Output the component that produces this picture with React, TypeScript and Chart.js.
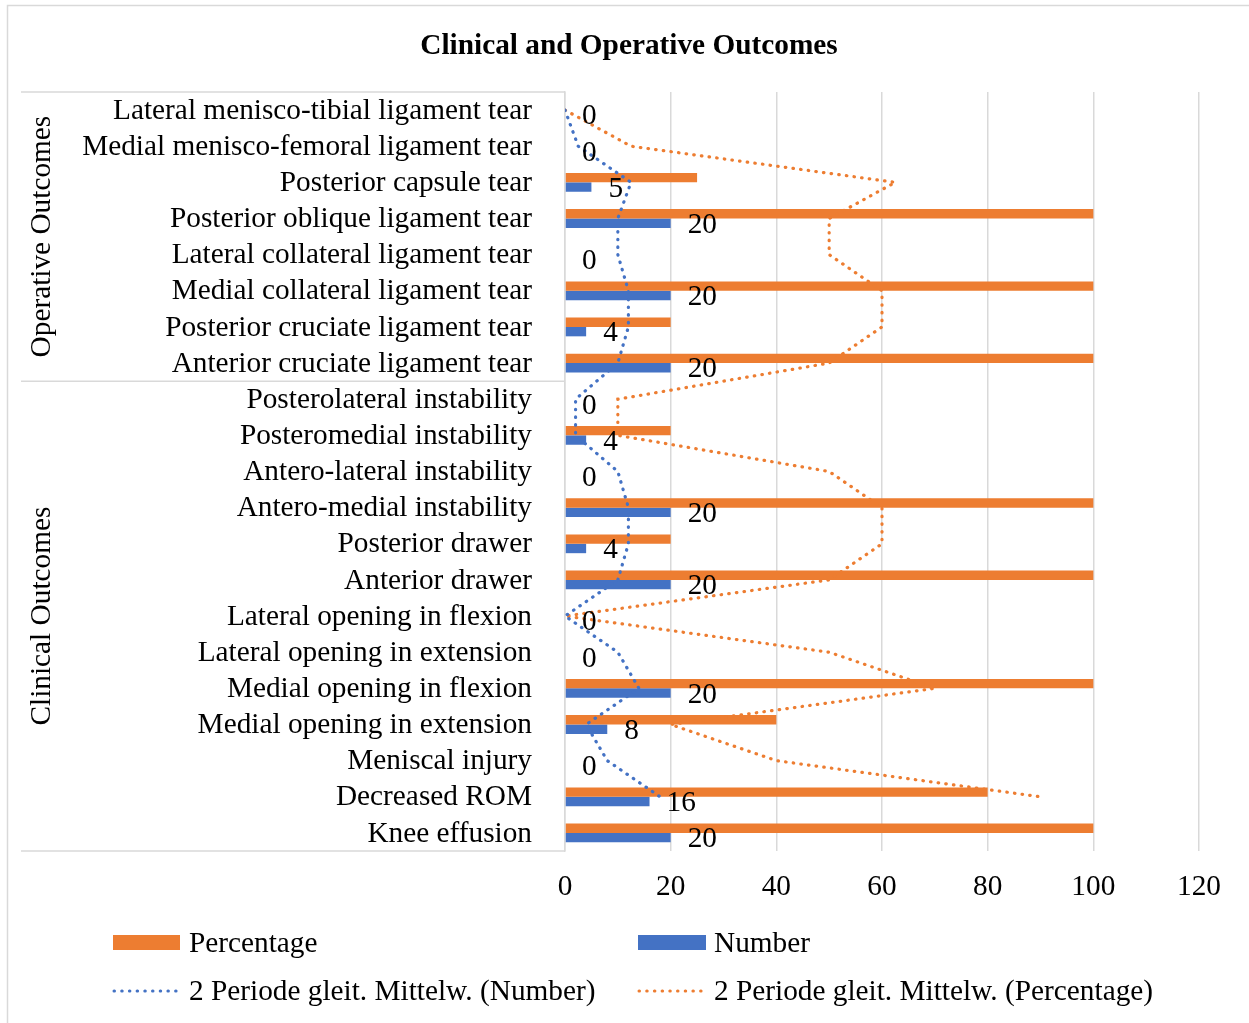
import React, { useEffect, useRef } from "react";
import { Chart, registerables } from "chart.js";

Chart.register(...registerables);

// ---- Data (top to bottom as displayed) ----
const categories = [
  "Lateral menisco-tibial ligament tear",
  "Medial menisco-femoral ligament tear",
  "Posterior capsule tear",
  "Posterior oblique ligament tear",
  "Lateral collateral ligament tear",
  "Medial collateral ligament tear",
  "Posterior cruciate ligament tear",
  "Anterior cruciate ligament tear",
  "Posterolateral instability",
  "Posteromedial instability",
  "Antero-lateral instability",
  "Antero-medial instability",
  "Posterior drawer",
  "Anterior drawer",
  "Lateral opening in flexion",
  "Lateral opening in extension",
  "Medial opening in flexion",
  "Medial opening in extension",
  "Meniscal injury",
  "Decreased ROM",
  "Knee effusion",
];

const percentage = [0, 0, 25, 100, 0, 100, 20, 100, 0, 20, 0, 100, 20, 100, 0, 0, 100, 40, 0, 80, 100];
const numberValues = [0, 0, 5, 20, 0, 20, 4, 20, 0, 4, 0, 20, 4, 20, 0, 0, 20, 8, 0, 16, 20];

// 2-period moving averages as shown (trendline, last category has none)
const maNumber = [0, 2.5, 12.5, 10, 10, 12, 12, 10, 2, 2, 10, 12, 12, 10, 0, 10, 14, 4, 8, 18, null];
const maPercentage = [0, 12.5, 62.5, 50, 50, 60, 60, 50, 10, 10, 50, 60, 60, 50, 0, 50, 70, 20, 40, 90, null];

const groupLabels = ["Operative Outcomes", "Clinical Outcomes"];
const groupEnds = [7, 20];

const xMin = 0;
const xMax = 120;
const xStep = 20;

const seriesNames = [
  "Percentage",
  "Number",
  "2 Periode gleit. Mittelw. (Number)",
  "2 Periode gleit. Mittelw. (Percentage)",
];

const ORANGE = "#ED7D31";
const BLUE = "#4472C4";
const GRID = "#d9d9d9";
const FAMILY = '"Liberation Serif", "Times New Roman", serif';
const FS = 29.3;

const NUMBER_DS = 3;

const decorPlugin = {
  id: "decor",
  beforeDraw(chart: any) {
    const ctx = chart.ctx;
    ctx.save();
    ctx.strokeStyle = GRID;
    ctx.lineWidth = 1.5;
    ctx.beginPath();
    ctx.moveTo(7.5, 1030);
    ctx.lineTo(7.5, 5.5);
    ctx.lineTo(1260, 5.5);
    ctx.stroke();
    ctx.restore();
  },
  afterDatasetsDraw(chart: any) {
    const ctx = chart.ctx;
    const meta = chart.getDatasetMeta(NUMBER_DS);
    ctx.save();
    ctx.font = `${FS}px ${FAMILY}`;
    ctx.fillStyle = "#000";
    ctx.textAlign = "left";
    ctx.textBaseline = "middle";
    meta.data.forEach((bar: any, i: number) => {
      ctx.fillText(String(numberValues[i]), bar.x + 17, bar.y + 2);
    });
    ctx.restore();
  },
  afterDraw(chart: any) {
    const ctx = chart.ctx;
    const area = chart.chartArea;
    const yScale = chart.scales.y;
    ctx.save();

    // Title
    ctx.font = `bold ${FS}px ${FAMILY}`;
    ctx.fillStyle = "#000";
    ctx.textAlign = "center";
    ctx.textBaseline = "middle";
    ctx.fillText("Clinical and Operative Outcomes", 629, 46);

    // Group separators
    ctx.strokeStyle = GRID;
    ctx.lineWidth = 1.5;
    const leftX = 21;
    const bounds: number[] = [area.top];
    for (let g = 0; g < groupEnds.length - 1; g++) {
      const a = yScale.getPixelForValue(groupEnds[g]);
      const b = yScale.getPixelForValue(groupEnds[g] + 1);
      bounds.push((a + b) / 2);
    }
    bounds.push(area.bottom);
    bounds.forEach((y) => {
      ctx.beginPath();
      ctx.moveTo(leftX, y);
      ctx.lineTo(area.left, y);
      ctx.stroke();
    });

    // Group labels (rotated)
    ctx.font = `${FS}px ${FAMILY}`;
    ctx.fillStyle = "#000";
    groupLabels.forEach((lab, g) => {
      const cy = (bounds[g] + bounds[g + 1]) / 2;
      ctx.save();
      ctx.translate(42, cy);
      ctx.rotate(-Math.PI / 2);
      ctx.textAlign = "center";
      ctx.textBaseline = "middle";
      ctx.fillText(lab, 0, 0);
      ctx.restore();
    });

    // Legend
    const row1 = 942;
    const row2 = 990;
    const col1 = 113;
    const col2 = 638;
    ctx.textAlign = "left";
    ctx.textBaseline = "middle";
    ctx.font = `${FS}px ${FAMILY}`;

    ctx.fillStyle = ORANGE;
    ctx.fillRect(col1, row1 - 7, 67, 15);
    ctx.fillStyle = "#000";
    ctx.fillText(seriesNames[0], col1 + 76, row1 + 2);

    ctx.fillStyle = BLUE;
    ctx.fillRect(col2, row1 - 7, 68, 15);
    ctx.fillStyle = "#000";
    ctx.fillText(seriesNames[1], col2 + 76, row1 + 2);

    const dotted = (x0: number, x1: number, y: number, color: string) => {
      ctx.save();
      ctx.strokeStyle = color;
      ctx.lineWidth = 3;
      ctx.lineCap = "round";
      ctx.setLineDash([0.5, 7.2]);
      ctx.beginPath();
      ctx.moveTo(x0, y);
      ctx.lineTo(x1, y);
      ctx.stroke();
      ctx.restore();
    };
    dotted(col1 + 1, col1 + 66, row2 + 1, BLUE);
    ctx.fillStyle = "#000";
    ctx.fillText(seriesNames[2], col1 + 76, row2 + 2);
    dotted(col2 + 1, col2 + 66, row2 + 1, ORANGE);
    ctx.fillStyle = "#000";
    ctx.fillText(seriesNames[3], col2 + 76, row2 + 2);

    ctx.restore();
  },
};

export default function App() {
  const canvasRef = useRef<HTMLCanvasElement | null>(null);

  useEffect(() => {
    if (!canvasRef.current) return;
    const lineCommon = {
      type: "line",
      indexAxis: "y",
      borderWidth: 3.2,
      borderDash: [0.5, 7.2],
      borderCapStyle: "round",
      pointRadius: 0,
      fill: false,
      tension: 0,
      order: 0,
    };
    const chart = new Chart(canvasRef.current, {
      type: "bar",
      data: {
        labels: categories,
        datasets: [
          {
            ...lineCommon,
            label: seriesNames[2],
            data: maNumber as any,
            borderColor: BLUE,
          } as any,
          {
            type: "bar",
            label: seriesNames[0],
            data: percentage,
            backgroundColor: ORANGE,
            borderWidth: 0,
            categoryPercentage: 0.52,
            barPercentage: 1.0,
            order: 1,
          } as any,
          {
            ...lineCommon,
            label: seriesNames[3],
            data: maPercentage as any,
            borderColor: ORANGE,
          } as any,
          {
            type: "bar",
            label: seriesNames[1],
            data: numberValues,
            backgroundColor: BLUE,
            borderWidth: 0,
            categoryPercentage: 0.52,
            barPercentage: 1.0,
            order: 1,
          } as any,
        ],
      },
      options: {
        indexAxis: "y",
        responsive: false,
        animation: false,
        events: [],
        layout: { padding: { top: 92, left: 0, right: 50, bottom: 112 } },
        plugins: {
          legend: { display: false },
          title: { display: false },
          tooltip: { enabled: false },
        },
        scales: {
          x: {
            type: "linear",
            min: xMin,
            max: xMax,
            ticks: {
              stepSize: xStep,
              color: "#000",
              padding: 19,
              font: { family: FAMILY, size: FS },
            },
            grid: { color: GRID, lineWidth: 1.5, drawTicks: false },
            border: { display: false },
            afterFit: (scale: any) => {
              scale.height = 60;
            },
          },
          y: {
            type: "category",
            ticks: {
              autoSkip: false,
              color: "#000",
              padding: 33,
              labelOffset: 1,
              font: { family: FAMILY, size: FS },
            },
            grid: { display: false, drawTicks: false },
            border: { display: true, color: GRID, width: 1.5 },
            afterFit: (scale: any) => {
              scale.width = 565;
            },
          },
        },
      } as any,
      plugins: [decorPlugin],
    });
    return () => chart.destroy();
  }, []);

  return (
    <div style={{ position: "absolute", left: 0, top: 0, width: 1249, height: 1023, background: "#fff" }}>
      <canvas ref={canvasRef} width={1249} height={1023} />
    </div>
  );
}
